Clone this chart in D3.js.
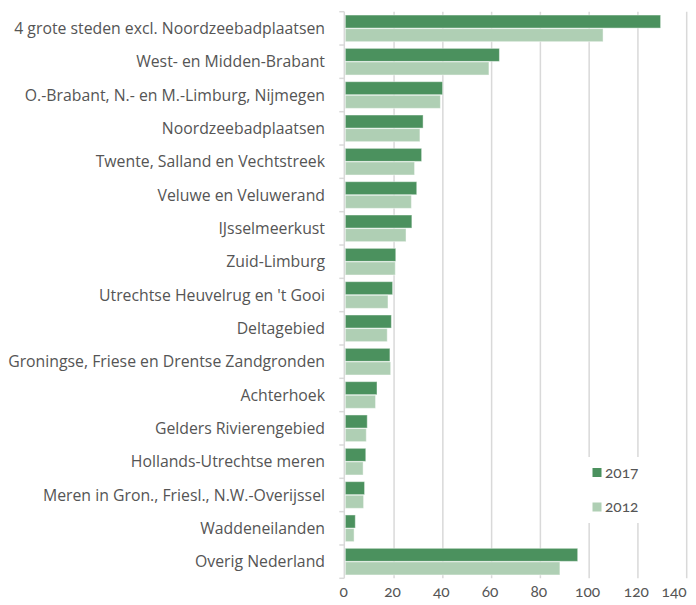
<!DOCTYPE html>
<html>
<head>
<meta charset="utf-8">
<script src="https://cdn.jsdelivr.net/npm/d3@7"></script>
<style>
  html, body { margin: 0; padding: 0; background: #fff; }
  svg { display: block; font-family: "Open Sans", sans-serif; }
  .num { font-family: Lato, "Open Sans", sans-serif; font-variant-numeric: oldstyle-nums; font-feature-settings: "onum" 1; }
</style>
</head>
<body>
<svg id="chart" width="696" height="605"></svg>
<script>
const categories = [
  "4 grote steden excl. Noordzeebadplaatsen",
  "West- en Midden-Brabant",
  "O.-Brabant, N.- en M.-Limburg, Nijmegen",
  "Noordzeebadplaatsen",
  "Twente, Salland en Vechtstreek",
  "Veluwe en Veluwerand",
  "IJsselmeerkust",
  "Zuid-Limburg",
  "Utrechtse Heuvelrug en 't Gooi",
  "Deltagebied",
  "Groningse, Friese en Drentse Zandgronden",
  "Achterhoek",
  "Gelders Rivierengebied",
  "Hollands-Utrechtse meren",
  "Meren in Gron., Friesl., N.W.-Overijssel",
  "Waddeneilanden",
  "Overig Nederland"
];
const values2017 = [129.3, 63.2, 39.9, 31.9, 31.3, 29.3, 27.3, 20.7, 19.4, 18.9, 18.3, 13.0, 9.0, 8.4, 7.9, 4.1, 95.3];
const values2012 = [105.7, 58.9, 39.0, 30.6, 28.4, 27.1, 24.9, 20.5, 17.5, 17.2, 18.6, 12.4, 8.6, 7.3, 7.5, 3.6, 88.0];
const seriesNames = ["2017", "2012"];
const xTicks = [0, 20, 40, 60, 80, 100, 120, 140];
const colors = { "2017": "#4b915e", "2012": "#afcfb4" };

(function () {
const svg = d3.select("#chart");
const pLeft = 345.3, pRight = 686.7, pTop = 11.7, pBottom = 578.3;

const x = d3.scaleLinear().domain([0, 140]).range([pLeft, pRight]);
const y = d3.scaleBand().domain(categories).range([pTop, pBottom]).paddingInner(0.2).paddingOuter(0.1);
const ySub = d3.scaleBand().domain(seriesNames).range([0, y.bandwidth()]).paddingInner(0.04);

const data = categories.map((c, i) => ({ cat: c, "2017": values2017[i], "2012": values2012[i] }));

// gridlines
svg.append("g").selectAll("line").data(xTicks.filter(t => t > 0)).join("line")
  .attr("x1", d => x(d)).attr("x2", d => x(d))
  .attr("y1", pTop).attr("y2", pBottom)
  .attr("stroke", "#d9d9d9").attr("stroke-width", 1.5);

// bars
const groups = svg.append("g").selectAll("g").data(data).join("g")
  .attr("transform", d => `translate(0,${y(d.cat)})`);
groups.selectAll("rect").data(d => seriesNames.map(s => ({ s, v: d[s] }))).join("rect")
  .attr("x", x(0))
  .attr("y", d => ySub(d.s))
  .attr("width", d => x(d.v) - x(0))
  .attr("height", ySub.bandwidth())
  .attr("fill", d => colors[d.s])
  .attr("stroke", "#ffffff").attr("stroke-opacity", 0.45).attr("stroke-width", 1);

// left axis line and boundary ticks
const step = y.step();
svg.append("line").attr("x1", pLeft - 1).attr("x2", pLeft - 1).attr("y1", pTop).attr("y2", pBottom)
  .attr("stroke", "#d9d9d9").attr("stroke-width", 1.5);
svg.append("g").selectAll("line").data(d3.range(categories.length + 1)).join("line")
  .attr("x1", pLeft - 6).attr("x2", pLeft - 1)
  .attr("y1", i => pTop + i * step).attr("y2", i => pTop + i * step)
  .attr("stroke", "#d9d9d9").attr("stroke-width", 1.5);

// category labels
svg.append("g").selectAll("text").data(categories).join("text")
  .attr("x", 325).attr("y", d => y(d) + y.bandwidth() / 2)
  .attr("dy", "0.35em")
  .attr("text-anchor", "end")
  .attr("font-size", 15.8).attr("fill", "#555")
  .text(d => d);

// x tick labels
svg.append("g").selectAll("text").data(xTicks).join("text")
  .attr("class", "num")
  .attr("x", d => d === 140 ? x(d) : x(d) - 1.5).attr("y", 597)
  .attr("text-anchor", d => d === 140 ? "end" : "middle")
  .attr("font-size", 15.5).attr("fill", "#555")
  .text(d => d);

// legend
const legend = svg.append("g");
legend.append("rect").attr("x", 584).attr("y", 457).attr("width", 64).attr("height", 66).attr("fill", "#fff");
const legendY = { "2017": 472.5, "2012": 507 };
seriesNames.forEach(s => {
  legend.append("rect").attr("x", 592.5).attr("y", legendY[s] - 4.5).attr("width", 9).attr("height", 9).attr("fill", colors[s]);
  legend.append("text").attr("class", "num").attr("x", 605).attr("y", legendY[s]).attr("dy", "0.35em")
    .attr("font-size", 15.5).attr("fill", "#555").text(s);
});
})();
</script>
</body>
</html>
